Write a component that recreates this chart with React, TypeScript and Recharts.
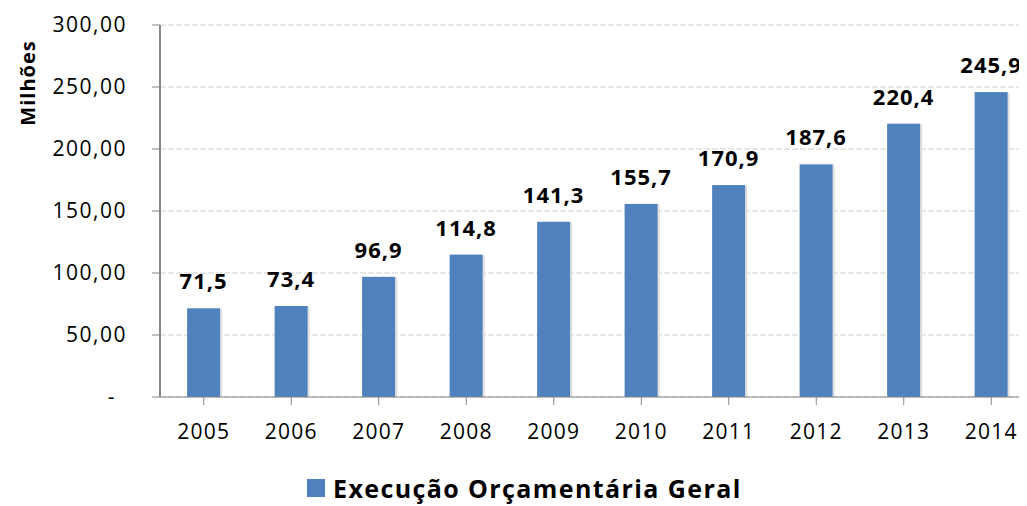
import React from 'react';
import { BarChart, Bar, XAxis, YAxis, CartesianGrid, LabelList } from 'recharts';

const years = ['2005', '2006', '2007', '2008', '2009', '2010', '2011', '2012', '2013', '2014'];
const execucao = [71.5, 73.4, 96.9, 114.8, 141.3, 155.7, 170.9, 187.6, 220.4, 245.9];
const yTicks = [0, 50, 100, 150, 200, 250, 300];

const data = years.map((year, i) => ({ year, value: execucao[i] }));

const FONT = '"Open Sans", Lato, sans-serif';
const BLUE = '#4F81BD';

const fmtAxis = (v: number) => (v === 0 ? '-' : v.toFixed(2).replace('.', ','));
const fmtLabel = (v: any) => Number(v).toFixed(1).replace('.', ',');

// Excel accounting style: the zero dash sits a bit left of the other labels
const YTick = (props: any) => {
  const { x, y, payload } = props;
  const v = payload.value;
  return (
    <text
      x={v === 0 ? x - 11 : x}
      y={y}
      dy="0.355em"
      textAnchor="end"
      fill="#000"
      fontSize={21}
      fontFamily={FONT}
      letterSpacing={1.5}
    >
      {fmtAxis(v)}
    </text>
  );
};

// bar with a soft grey shadow on the right, like the Excel original
const ShadowBar = (props: any) => {
  const { x, y, width, height } = props;
  if (!height || height <= 0) return null;
  return (
    <g>
      <rect x={x + 2} y={y + 1} width={width} height={height - 1} fill="#d9d9d9" />
      <rect x={x + 1} y={y} width={width} height={height} fill="#e8e8e8" />
      <rect x={x} y={y} width={width} height={height} fill={BLUE} />
    </g>
  );
};

export default function App() {
  return (
    <div style={{ position: 'relative', width: 1019, height: 498, overflow: 'hidden', fontFamily: FONT }}>
      <BarChart
        width={1027}
        height={498}
        data={data}
        margin={{ top: 17, right: 0, left: 0, bottom: 69 }}
        barCategoryGap="31%"
      >
        <CartesianGrid vertical={false} stroke="#d0d0d0" strokeDasharray="6 2" />
        <XAxis
          dataKey="year"
          height={40}
          stroke="#868686"
          tickSize={8}
          tickMargin={19}
          tick={{ fill: '#000', fontSize: 21, fontFamily: FONT, letterSpacing: 1.2 }}
          interval={0}
        />
        <YAxis
          width={152}
          domain={[0, 300]}
          ticks={yTicks}
          stroke="#868686"
          tickSize={8}
          tickMargin={25}
          tick={<YTick />}
          axisLine={{ stroke: '#868686', strokeWidth: 2 }}
        />
        <Bar dataKey="value" fill={BLUE} shape={<ShadowBar />} isAnimationActive={false}>
          <LabelList
            dataKey="value"
            position="top"
            offset={19}
            formatter={fmtLabel}
            style={{ fill: '#000', fontSize: 22, fontWeight: 700, fontFamily: FONT, letterSpacing: 1 }}
          />
        </Bar>
      </BarChart>
      <div
        style={{
          position: 'absolute',
          left: 19,
          top: 75,
          transform: 'translate(-50%, -50%) rotate(-90deg)',
          fontSize: 20,
          fontWeight: 700,
          letterSpacing: 1,
          whiteSpace: 'nowrap',
        }}
      >
        Milhões
      </div>
      <div
        style={{
          position: 'absolute',
          left: 299,
          top: 463,
          display: 'flex',
          alignItems: 'center',
          fontSize: 25,
          fontWeight: 700,
          letterSpacing: 1.4,
          whiteSpace: 'nowrap',
        }}
      >
        <span style={{ display: 'inline-block', width: 18, height: 18, background: BLUE, marginRight: 8 }} />
        Execução Orçamentária Geral
      </div>
    </div>
  );
}
